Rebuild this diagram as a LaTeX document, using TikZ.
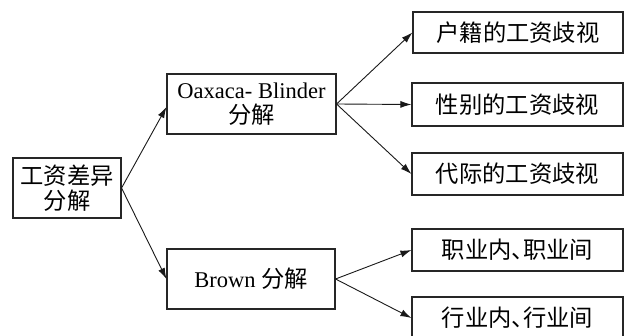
\documentclass[tikz,border=0pt]{standalone}
\usepackage{fontspec}
\setmainfont{Liberation Serif}
\newfontfamily\cjkfont{Noto Sans CJK SC}
\newcommand\cjk{\cjkfont\fontsize{23.3}{24.5}\selectfont}
\newcommand\dunhao{\makebox[0.5em][l]{、}}
\usetikzlibrary{arrows.meta}
\tikzset{
  box/.style={draw=black!85, line width=1.1pt, inner sep=0pt, align=center,
    font=\fontsize{22.5}{24.5}\selectfont},
  conn/.style={draw=black!90, line width=0.9pt, -{Latex[length=11pt,width=7pt]}}
}
\begin{document}
\begin{tikzpicture}[x=1pt,y=-1pt]
\useasboundingbox (0,0) rectangle (627,336);
\node[box, minimum width=108pt, minimum height=60pt] (root) at (67,188) {{\cjk 工资差异}\\{\cjk 分解}};
\node[box, minimum width=169pt, minimum height=60pt] (oax) at (251.5,104) {Oaxaca- Blinder\\{\cjk 分解}};
\node[box, minimum width=168pt, minimum height=60pt] (brown) at (251,279) {Brown {\cjk 分解}};
\node[box, minimum width=210pt, minimum height=41pt] (hj) at (518,32.5) {\cjk 户籍的工资歧视};
\node[box, minimum width=211pt, minimum height=43pt] (xb) at (517.5,104.5) {\cjk 性别的工资歧视};
\node[box, minimum width=211pt, minimum height=42pt] (dj) at (517.5,174) {\cjk 代际的工资歧视};
\node[box, minimum width=211pt, minimum height=42pt] (zy) at (517.5,250) {\cjk 职业内\dunhao 职业间};
\node[box, minimum width=211pt, minimum height=42pt] (hy) at (517.5,318) {\cjk 行业内\dunhao 行业间};
\draw[conn] (root.east) -- ([yshift=-3pt]oax.west);
\draw[conn] (root.east) -- (brown.west);
\draw[conn] (oax.east) -- (hj.west);
\draw[conn] (oax.east) -- (xb.west);
\draw[conn] (oax.east) -- (dj.west);
\draw[conn] (brown.east) -- (zy.west);
\draw[conn] (brown.east) -- (hy.west);
\end{tikzpicture}
\end{document}
